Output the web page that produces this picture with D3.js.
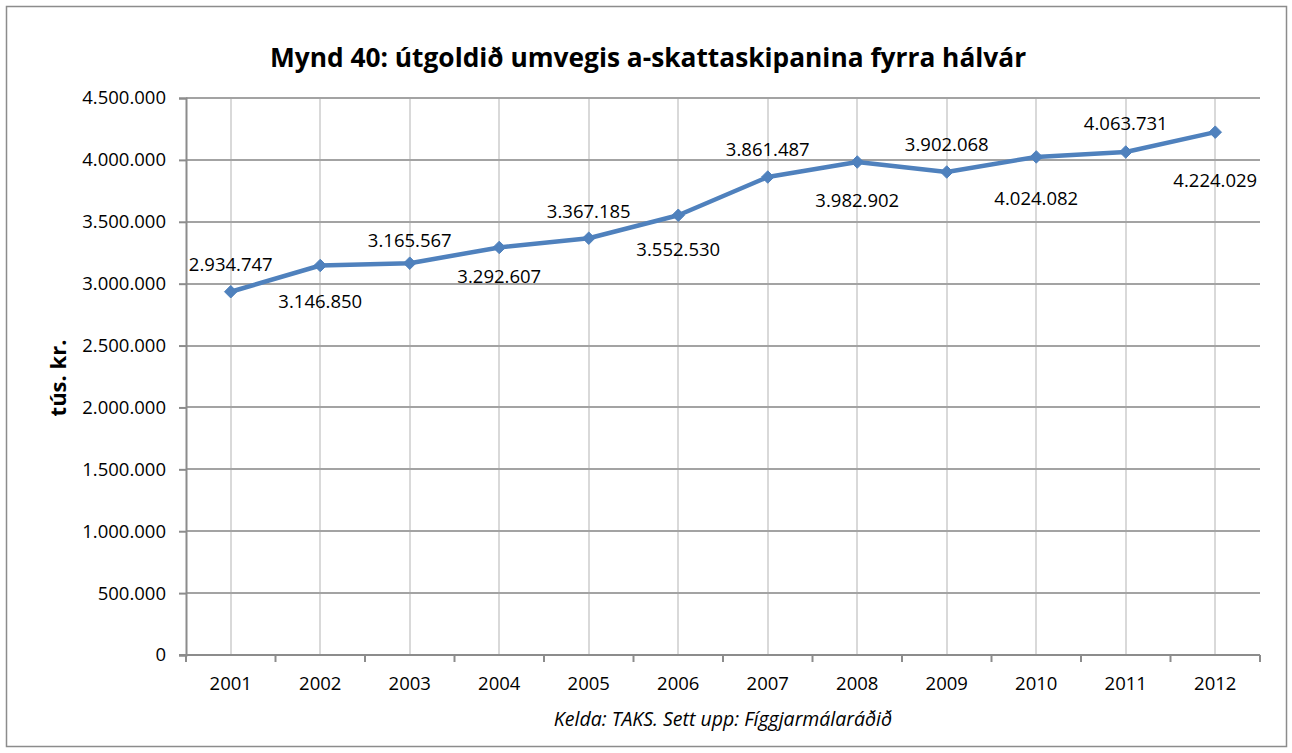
<!DOCTYPE html>
<html>
<head>
<meta charset="utf-8">
<script src="https://cdn.jsdelivr.net/npm/d3@7"></script>
<style>
  html, body { margin: 0; padding: 0; background: #ffffff; }
  svg { display: block; }
  text { font-family: "Open Sans", "Noto Sans", sans-serif; fill: #000; }
</style>
</head>
<body>
<svg id="chart" width="1292" height="753"></svg>
<script>
// Útgoldið umvegis a-skattaskipanina, fyrra hálvár (tús. kr.)
const years = ["2001", "2002", "2003", "2004", "2005", "2006", "2007", "2008", "2009", "2010", "2011", "2012"];
const values = [2934747, 3146850, 3165567, 3292607, 3367185, 3552530, 3861487, 3982902, 3902068, 4024082, 4063731, 4224029];
const yTicks = [0, 500000, 1000000, 1500000, 2000000, 2500000, 3000000, 3500000, 4000000, 4500000];

const titleText = "Mynd 40: útgoldið umvegis a-skattaskipanina fyrra hálvár";
const yAxisTitle = "tús. kr.";
const sourceText = "Kelda: TAKS. Sett upp: Fíggjarmálaráðið";

// vertical offset of each value label from its point (labels alternate above/below)
const labelDy = [-28, 35, -24, 28, -28, 33, -29, 37, -29, 41, -30, 47];

const fmt = v => d3.format(",")(v).replace(/,/g, ".");

const svg = d3.select("#chart");
const plot = { left: 186, right: 1260, top: 98, bottom: 655 };
const labelSize = "18.5px";
const axisColor = "#8c8c8c";

// outer frame
svg.append("rect")
  .attr("x", 6.5).attr("y", 6.5)
  .attr("width", 1280).attr("height", 740)
  .attr("fill", "#fff").attr("stroke", "#8c8c8c").attr("stroke-width", 1.5);

const x = d3.scaleBand().domain(years).range([plot.left, plot.right]);
const y = d3.scaleLinear().domain([0, 4500000]).range([plot.bottom, plot.top]);
const cx = d => x(d) + x.bandwidth() / 2;

// vertical gridlines at category centres
svg.append("g").selectAll("line").data(years).join("line")
  .attr("x1", d => Math.round(cx(d))).attr("x2", d => Math.round(cx(d)))
  .attr("y1", plot.top).attr("y2", plot.bottom)
  .attr("stroke", "#d9d9d9").attr("stroke-width", 2);

// horizontal gridlines
svg.append("g").selectAll("line").data(yTicks.slice(1)).join("line")
  .attr("x1", plot.left).attr("x2", plot.right)
  .attr("y1", d => Math.round(y(d))).attr("y2", d => Math.round(y(d)))
  .attr("stroke", "#a3a3a3").attr("stroke-width", 2);

// y axis
const yAxis = d3.axisLeft(y).tickValues(yTicks).tickSize(7).tickPadding(13).tickFormat(fmt);
const gy = svg.append("g").attr("transform", `translate(${plot.left},0)`).call(yAxis);
gy.select(".domain").attr("stroke", axisColor).attr("stroke-width", 2);
gy.selectAll(".tick line").attr("stroke", axisColor).attr("stroke-width", 2);
gy.selectAll(".tick text").style("font-size", labelSize).attr("fill", "#000");

// x axis: ticks at band boundaries
const gx = svg.append("g").attr("transform", `translate(0,${plot.bottom})`);
gx.append("line")
  .attr("x1", plot.left - 7).attr("x2", plot.right)
  .attr("y1", 0).attr("y2", 0)
  .attr("stroke", axisColor).attr("stroke-width", 2);
const bounds = years.map(d => x(d)).concat([plot.right]);
gx.selectAll("line.tk").data(bounds).join("line").attr("class", "tk")
  .attr("x1", d => d).attr("x2", d => d)
  .attr("y1", 0).attr("y2", 7)
  .attr("stroke", axisColor).attr("stroke-width", 2);
gx.selectAll("text").data(years).join("text")
  .attr("x", d => cx(d)).attr("y", 35)
  .attr("text-anchor", "middle")
  .style("font-size", labelSize)
  .text(d => d);

// series line
const line = d3.line().x((d, i) => cx(years[i])).y(d => y(d));
svg.append("path")
  .datum(values)
  .attr("d", line)
  .attr("fill", "none")
  .attr("stroke", "#4f81bd")
  .attr("stroke-width", 4.5)
  .attr("stroke-linejoin", "round");

// diamond markers
const diamond = d3.symbol().type(d3.symbolDiamond2).size(100);
svg.append("g").selectAll("path").data(values).join("path")
  .attr("d", diamond)
  .attr("transform", (d, i) => `translate(${cx(years[i])},${y(d)})`)
  .attr("fill", "#4f81bd")
  .attr("stroke", "#4f81bd")
  .attr("stroke-width", 1);

// value labels
svg.append("g").selectAll("text").data(values).join("text")
  .attr("x", (d, i) => cx(years[i]))
  .attr("y", (d, i) => y(d) + labelDy[i])
  .attr("text-anchor", "middle")
  .attr("dominant-baseline", "central")
  .style("font-size", labelSize)
  .text(d => fmt(d));

// title
svg.append("text")
  .attr("x", 648).attr("y", 57)
  .attr("text-anchor", "middle")
  .attr("dominant-baseline", "central")
  .style("font-size", "26.3px").style("font-weight", "bold")
  .text(titleText);

// y axis title
svg.append("text")
  .attr("transform", "translate(57,378) rotate(-90)")
  .attr("text-anchor", "middle")
  .attr("dominant-baseline", "central")
  .style("font-size", "22px").style("font-weight", "bold")
  .text(yAxisTitle);

// source note
svg.append("text")
  .attr("x", 723).attr("y", 718)
  .attr("text-anchor", "middle")
  .attr("dominant-baseline", "central")
  .style("font-size", "19.5px").style("font-style", "italic")
  .text(sourceText);
</script>
</body>
</html>
